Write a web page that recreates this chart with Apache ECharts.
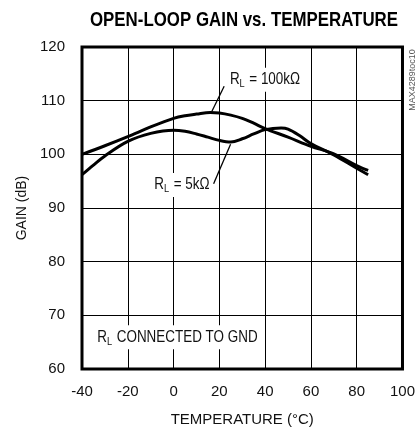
<!DOCTYPE html>
<html><head><meta charset="utf-8">
<script src="https://cdn.jsdelivr.net/npm/echarts@6/dist/echarts.min.js"></script>
<style>html,body{margin:0;padding:0;background:#fff}#c{width:418px;height:432px}</style>
</head><body><div id="c"></div>
<script>
// Data
const temps100k = [-40, -30, -20, -10, 0, 5, 10, 16, 20, 25, 30, 35, 40, 50, 60, 70, 80, 85];
const gain100k  = [100.0, 101.6, 103.3, 105.1, 106.7, 107.2, 107.5, 107.8, 107.7, 107.3, 106.7, 105.8, 104.8, 103.2, 101.5, 100.1, 97.9, 97.0];
const temps5k = [-40, -35, -30, -20, -10, 0, 5, 10, 15, 20, 25, 30, 35, 40, 47, 50, 55, 60, 70, 80, 85];
const gain5k  = [96.2, 98.0, 99.7, 102.4, 103.9, 104.5, 104.3, 103.8, 103.2, 102.6, 102.3, 102.9, 103.8, 104.6, 104.9, 104.7, 103.5, 102.0, 99.9, 97.4, 96.2];
const xTicks = [-40, -20, 0, 20, 40, 60, 80, 100];
const yTicks = [60, 70, 80, 90, 100, 110, 120];
const titleText = 'OPEN-LOOP GAIN vs. TEMPERATURE';
const xName = 'TEMPERATURE (°C)';
const yName = 'GAIN (dB)';
const sideText = 'MAX4289toc10';
// annotation anchors (data space)
const arrow100k = [[22.1, 112.7], [16.6, 107.9]];
const arrow5k = [[17.5, 94.5], [24.9, 101.9]];
const label100kPos = [23.5, 113.9];
const label5kPos = [-9.5, 94.3];
const labelGndPos = [-34.4, 65.9];

const FONT = "'Liberation Sans', Arial, sans-serif";
const chart = echarts.init(document.getElementById('c'), null, {renderer: 'canvas'});

function zip(a, b) { return a.map((v, i) => [v, b[i]]); }
function textWidth(t, font) {
  const c = document.createElement('canvas').getContext('2d');
  c.font = font; return c.measureText(t).width;
}

const lineStyle = {color: '#000', width: 3};
chart.setOption({
  animation: false,
  backgroundColor: '#fff',
  grid: {left: 82, right: 10, top: 47, bottom: 60, show: true, borderColor: '#000', borderWidth: 3, backgroundColor: 'transparent'},
  xAxis: {
    type: 'value', min: xTicks[0], max: xTicks[xTicks.length - 1], interval: 20,
    axisLine: {show: false}, axisTick: {show: false},
    splitLine: {show: true, lineStyle: {color: '#000', width: 1}},
    axisLabel: {fontFamily: FONT, fontSize: 15, color: '#111', margin: 15},
    name: xName, nameLocation: 'middle', nameGap: 43,
    nameTextStyle: {fontFamily: FONT, fontSize: 15, color: '#111'}
  },
  yAxis: {
    type: 'value', min: yTicks[0], max: yTicks[yTicks.length - 1], interval: 10,
    axisLine: {show: false}, axisTick: {show: false},
    splitLine: {show: true, lineStyle: {color: '#000', width: 1}},
    axisLabel: {fontFamily: FONT, fontSize: 15, color: '#111', margin: 17},
    name: yName, nameLocation: 'middle', nameGap: 50, nameRotate: 90,
    nameTextStyle: {fontFamily: FONT, fontSize: 14, color: '#111'}
  },
  series: [
    {
      type: 'line', name: '100k', data: zip(temps100k, gain100k), smooth: 0.35, symbol: 'none',
      lineStyle: lineStyle, z: 5,
      markLine: {
        silent: true, symbol: ['none', 'arrow'], symbolSize: [0, 11],
        lineStyle: {color: '#000', width: 1.3, type: 'solid'}, label: {show: false},
        data: [
          [{coord: arrow100k[0]}, {coord: arrow100k[1]}],
          [{coord: arrow5k[0]}, {coord: arrow5k[1]}]
        ]
      }
    },
    {
      type: 'line', name: '5k', data: zip(temps5k, gain5k), smooth: 0.35, symbol: 'none',
      lineStyle: lineStyle, z: 5
    }
  ]
});

function px(p) { return chart.convertToPixel({gridIndex: 0}, p); }
const rich = {
  r: {fontFamily: FONT, fontSize: 16, fill: '#111', lineHeight: 20, verticalAlign: 'middle'},
  s: {fontFamily: FONT, fontSize: 11, fill: '#111', lineHeight: 20, verticalAlign: 'bottom', padding: [0, 1, 0, 0]}
};
const SX = 0.84;
function label(pos, rest) {
  const p = px(pos);
  return {
    type: 'text', x: p[0], y: p[1], z: 20, scaleX: SX,
    style: {
      text: '{r|R}{s|L}{r|' + rest + '}', rich: rich,
      verticalAlign: 'middle', align: 'left',
      backgroundColor: '#fff', padding: [2, 3, 2, 3]
    }
  };
}
const titleFont = 'bold 21px ' + FONT;
const titleScale = 308 / textWidth(titleText, titleFont);
chart.setOption({
  graphic: [
    {
      type: 'text', x: 244, y: 20, scaleX: titleScale, z: 20,
      style: {text: titleText, fontFamily: FONT, fontWeight: 'bold', fontSize: 21, fill: '#000', align: 'center', verticalAlign: 'middle'}
    },
    label(label100kPos, ' = 100kΩ'),
    label(label5kPos, ' = 5kΩ'),
    label(labelGndPos, ' CONNECTED TO GND'),
    {
      type: 'text', x: 413, y: 80, rotation: Math.PI / 2, z: 20,
      style: {text: sideText, fontFamily: FONT, fontSize: 9, fill: '#555', align: 'center', verticalAlign: 'middle'}
    }
  ]
});
</script>
</body></html>
